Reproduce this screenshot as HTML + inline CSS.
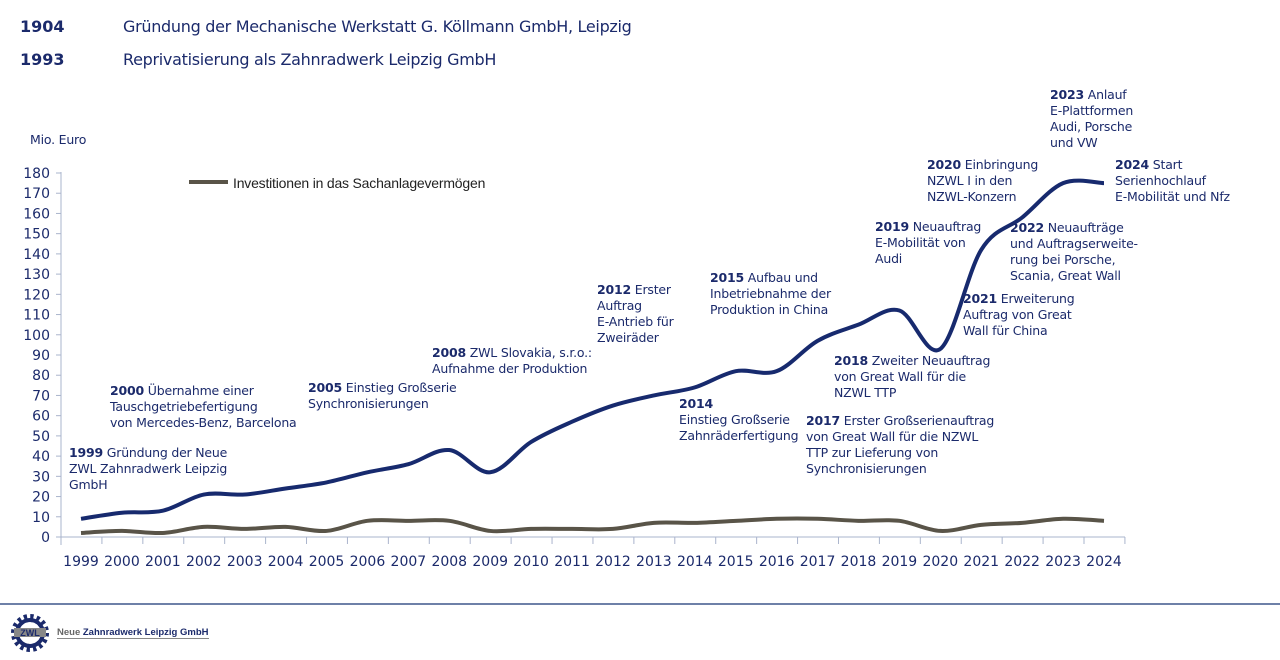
<!DOCTYPE html>
<html><head><meta charset="utf-8"><style>
body{margin:0;width:1280px;height:660px;background:#fff;font-family:"DejaVu Sans","Liberation Sans",sans-serif;color:#1b2a6b;position:relative;overflow:hidden}
.t{position:absolute;font-size:16px;white-space:nowrap}
.a{position:absolute;font-size:12.5px;line-height:16px;white-space:nowrap;color:#1b2a6b;letter-spacing:-0.2px}
.a b{font-weight:bold}
</style></head><body>
<div class="t" style="left:20px;top:17px;font-weight:bold">1904</div>
<div class="t" style="left:123px;top:17px;letter-spacing:-0.3px">Gründung der Mechanische Werkstatt G. Köllmann GmbH, Leipzig</div>
<div class="t" style="left:20px;top:50px;font-weight:bold">1993</div>
<div class="t" style="left:123px;top:50px;letter-spacing:-0.3px">Reprivatisierung als Zahnradwerk Leipzig GmbH</div>
<svg id="s" width="1280" height="660" style="position:absolute;left:0;top:0"></svg>
<div class="a" style="left:30px;top:132px">Mio. Euro</div>
<div class="a" style="left:233px;top:175px;font-family:'Liberation Sans',sans-serif;font-size:14px;color:#222">Investitionen in das Sachanlagevermögen</div>
<div class="a" style="left:69px;top:445px"><b>1999</b> Gründung der Neue<br>ZWL Zahnradwerk Leipzig<br>GmbH</div>
<div class="a" style="left:110px;top:383px"><b>2000</b> Übernahme einer<br>Tauschgetriebefertigung<br>von Mercedes-Benz, Barcelona</div>
<div class="a" style="left:308px;top:380px"><b>2005</b> Einstieg Großserie<br>Synchronisierungen</div>
<div class="a" style="left:432px;top:345px"><b>2008</b> ZWL Slovakia, s.r.o.:<br>Aufnahme der Produktion</div>
<div class="a" style="left:597px;top:282px"><b>2012</b> Erster<br>Auftrag<br>E-Antrieb für<br>Zweiräder</div>
<div class="a" style="left:679px;top:396px"><b>2014</b><br>Einstieg Großserie<br>Zahnräderfertigung</div>
<div class="a" style="left:710px;top:270px"><b>2015</b> Aufbau und<br>Inbetriebnahme der<br>Produktion in China</div>
<div class="a" style="left:834px;top:353px"><b>2018</b> Zweiter Neuauftrag<br>von Great Wall für die<br>NZWL TTP</div>
<div class="a" style="left:806px;top:413px"><b>2017</b> Erster Großserienauftrag<br>von Great Wall für die NZWL<br>TTP zur Lieferung von<br>Synchronisierungen</div>
<div class="a" style="left:875px;top:219px"><b>2019</b> Neuauftrag<br>E-Mobilität von<br>Audi</div>
<div class="a" style="left:927px;top:157px"><b>2020</b> Einbringung<br>NZWL I in den<br>NZWL-Konzern</div>
<div class="a" style="left:963px;top:291px"><b>2021</b> Erweiterung<br>Auftrag von Great<br>Wall für China</div>
<div class="a" style="left:1010px;top:220px"><b>2022</b> Neuaufträge<br>und Auftragserweite-<br>rung bei Porsche,<br>Scania, Great Wall</div>
<div class="a" style="left:1050px;top:87px"><b>2023</b> Anlauf<br>E-Plattformen<br>Audi, Porsche<br>und VW</div>
<div class="a" style="left:1115px;top:157px"><b>2024</b> Start<br>Serienhochlauf<br>E-Mobilität und Nfz</div>
<div style="position:absolute;left:0;top:603px;width:1280px;height:2px;background:#6e80a8"></div>
<svg width="40" height="40" style="position:absolute;left:10px;top:613px" viewBox="0 0 40 40">
<circle cx="20" cy="20" r="15" fill="none" stroke="#1b2a6b" stroke-width="8" stroke-dasharray="3 2.9"/>
<circle cx="20" cy="20" r="13" fill="none" stroke="#1b2a6b" stroke-width="4"/>
<rect x="4" y="15" width="32" height="9" fill="#888"/>
<text x="20" y="23" font-size="9" font-weight="bold" text-anchor="middle" fill="#1b2a6b" font-family="Liberation Sans">ZWL</text>
</svg>
<div style="position:absolute;left:57px;top:627px;font-size:9.5px;font-weight:bold;font-family:'Liberation Sans',sans-serif;border-bottom:1px solid #888"><span style="color:#666">Neue</span> Zahnradwerk Leipzig GmbH</div>
<script>
const s=document.getElementById('s');let h='';
const y0=537,py=(537-173)/180,X=i=>81+40.92*i,Y=v=>y0-v*py;
h+=`<line x1="61" y1="172" x2="61" y2="545" stroke="#aab4cc"/><line x1="56" y1="537" x2="1125" y2="537" stroke="#aab4cc"/>`;
for(let v=0;v<=180;v+=10){h+=`<line x1="56" x2="61" y1="${Y(v)}" y2="${Y(v)}" stroke="#aab4cc"/><text x="50" y="${Y(v)+5}" text-anchor="end" font-size="14" fill="#1b2a6b" font-family="DejaVu Sans">${v}</text>`}
for(let i=0;i<=26;i++){const x=61+40.92*i;h+=`<line x1="${x}" x2="${x}" y1="537" y2="544" stroke="#aab4cc"/>`}
for(let i=0;i<26;i++)h+=`<text x="${X(i)}" y="566" text-anchor="middle" font-size="14" fill="#1b2a6b" font-family="DejaVu Sans">${1999+i}</text>`;
function path(d){let p=d.map((v,i)=>[X(i),Y(v)]);let r=`M${p[0]}`;for(let i=0;i<p.length-1;i++){const a=p[i-1]||p[i],b=p[i],c=p[i+1],e=p[i+2]||c;r+=`C${b[0]+(c[0]-a[0])/6},${b[1]+(c[1]-a[1])/6} ${c[0]-(e[0]-b[0])/6},${c[1]-(e[1]-b[1])/6} ${c[0]},${c[1]}`}return r}
const bl=[9,12,13,21,21,24,27,32,36,43,32,47,57,65,70,74,82,82,97,105,112,93,142,158,175,175];
const gr=[2,3,2,5,4,5,3,8,8,8,3,4,4,4,7,7,8,9,9,8,8,3,6,7,9,8];
h+=`<path d="${path(gr)}" fill="none" stroke="#595448" stroke-width="4"/>`;
h+=`<path d="${path(bl)}" fill="none" stroke="#172a6e" stroke-width="4"/>`;
h+=`<line x1="189" x2="228" y1="182" y2="182" stroke="#595448" stroke-width="4"/>`;
s.innerHTML=h;
</script>
</body></html>
